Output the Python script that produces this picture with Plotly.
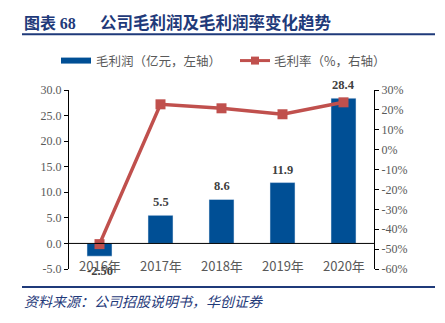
import plotly.graph_objects as go

years = ["2016年", "2017年", "2018年", "2019年", "2020年"]
gross_profit = [-2.5, 5.5, 8.6, 11.9, 28.4]
profit_labels = ["-2.50", "5.5", "8.6", "11.9", "28.4"]
gross_margin = [-47.5, 22.8, 20.8, 17.8, 23.8]
left_ticks = [-5, 0, 5, 10, 15, 20, 25, 30]
right_ticks = [-60, -50, -40, -30, -20, -10, 0, 10, 20, 30]

BLUE = "#004F95"
RED = "#C0504D"
NAVY = "#1F3A7A"
GRAY = "#595959"
CJK = "Noto Sans CJK SC"
SERIF = "Liberation Serif"

L, R, T, B = 69, 374, 89.5, 269
PW, PH = R - L, B - T

def pxx(x):
    return (x - L) / PW

def pxy(y):
    return (B - y) / PH

fig = go.Figure()
fig.add_trace(go.Bar(
    x=years, y=gross_profit, marker_color=BLUE, width=0.41,
    showlegend=False, yaxis="y"))
fig.add_trace(go.Scatter(
    x=years, y=gross_margin, mode="lines+markers", yaxis="y2",
    line=dict(color=RED, width=3.5), cliponaxis=False,
    marker=dict(symbol="square", size=10, color=RED), showlegend=False))

annotations = []
for yr, v, lab in zip(years, gross_profit, profit_labels):
    annotations.append(dict(x=yr, y=v, xref="x", yref="y", text=f"<b>{lab}</b>", showarrow=False,
                            yanchor="middle", yshift=13 if v >= 0 else -14.5,
                            font=dict(family=SERIF, size=12.5, color="#404040")))
for yr in years:
    annotations.append(dict(x=yr, y=-4.35, xref="x", yref="y", text=yr, showarrow=False,
                            font=dict(family=CJK, size=13, color=GRAY)))
annotations += [
    dict(x=pxx(22), y=pxy(21), xref="paper", yref="paper", xanchor="left", yanchor="middle",
         text="<b>图表 </b><b style='font-family:Liberation Serif'>68</b>", showarrow=False,
         font=dict(family=CJK, size=16, color=NAVY)),
    dict(x=pxx(98), y=pxy(21), xref="paper", yref="paper", xanchor="left", yanchor="middle",
         text="<b>公司毛利润及毛利润率变化趋势</b>", showarrow=False,
         font=dict(family=CJK, size=16.5, color=NAVY)),
    dict(x=pxx(94), y=pxy(60), xref="paper", yref="paper", xanchor="left", yanchor="middle",
         text="毛利润（亿元，左轴）", showarrow=False, font=dict(family=CJK, size=12.5, color=GRAY)),
    dict(x=pxx(272), y=pxy(60), xref="paper", yref="paper", xanchor="left", yanchor="middle",
         text="毛利率（%，右轴）", showarrow=False, font=dict(family=CJK, size=12.5, color=GRAY)),
    dict(x=pxx(22), y=pxy(301), xref="paper", yref="paper", xanchor="left", yanchor="middle",
         text="<i>资料来源：公司招股说明书，华创证券</i>", showarrow=False,
         font=dict(family=CJK, size=14, color=NAVY)),
]

def box(x0, y0, x1, y1):
    return dict(x0=pxx(x0), x1=pxx(x1), y0=pxy(y0), y1=pxy(y1))

shapes = [
    dict(type="line", xref="paper", yref="paper", line=dict(color=NAVY, width=2), **box(22, 33.5, 435, 33.5)),
    dict(type="line", xref="paper", yref="paper", line=dict(color=NAVY, width=2), **box(22, 287, 435, 287)),
    dict(type="rect", xref="paper", yref="paper", fillcolor=BLUE, line=dict(width=0), **box(61, 57, 91, 63)),
    dict(type="line", xref="paper", yref="paper", line=dict(color=RED, width=3), **box(240, 60, 270, 60)),
    dict(type="rect", xref="paper", yref="paper", fillcolor=RED, line=dict(width=0), **box(251, 56, 259, 64)),
    dict(type="line", xref="x domain", yref="y", x0=0, x1=1, y0=0, y1=0, line=dict(color="black", width=1)),
]

fig.update_layout(
    width=445, height=323,
    margin=dict(l=L, r=445 - R, t=T, b=323 - B),
    paper_bgcolor="white", plot_bgcolor="white",
    xaxis=dict(showticklabels=False, ticks="", showgrid=False, showline=False, zeroline=False),
    yaxis=dict(range=[-5, 30], tickmode="array", tickvals=left_ticks,
               ticktext=[f"{v:.1f}" for v in left_ticks], showgrid=False, zeroline=False,
               showline=True, linecolor="black", linewidth=1, ticks="outside", ticklen=4,
               tickcolor="black", tickfont=dict(family=SERIF, size=12, color=GRAY)),
    yaxis2=dict(range=[-60, 30], tickmode="array", tickvals=right_ticks,
                ticktext=[f"{v}%" for v in right_ticks], overlaying="y", side="right",
                showgrid=False, zeroline=False, showline=True, linecolor="black", linewidth=1,
                ticks="outside", ticklen=4, tickcolor="black",
                tickfont=dict(family=SERIF, size=12, color=GRAY)),
    annotations=annotations, shapes=shapes,
)

fig.write_html("out.html")
